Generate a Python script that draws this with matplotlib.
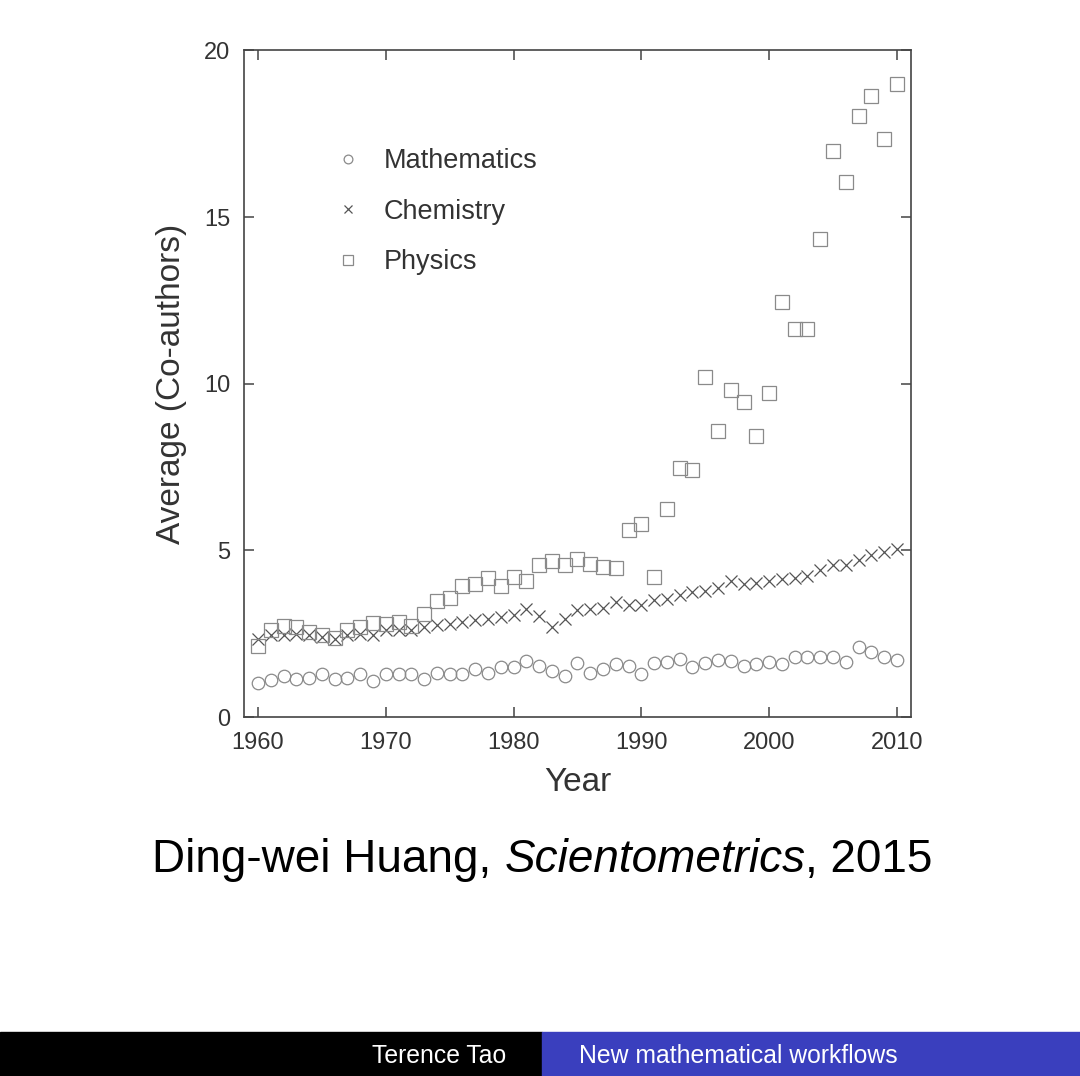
import numpy as np
import matplotlib
matplotlib.use("Agg")
import matplotlib.pyplot as plt
from matplotlib.patches import Rectangle

plt.rcParams['font.family'] = ['Liberation Sans', 'DejaVu Sans']

years = list(range(1960, 2011))

mathematics = [1.03, 1.10, 1.23, 1.13, 1.16, 1.30, 1.13, 1.18, 1.30, 1.08,
               1.28, 1.30, 1.28, 1.13, 1.33, 1.28, 1.30, 1.44, 1.33, 1.49,
               1.49, 1.69, 1.54, 1.39, 1.23, 1.61, 1.33, 1.44, 1.59, 1.54,
               1.28, 1.61, 1.64, 1.74, 1.49, 1.61, 1.71, 1.69, 1.54, 1.59,
               1.66, 1.59, 1.79, 1.79, 1.81, 1.81, 1.64, 2.11, 1.94, 1.81, 1.71]

chemistry = [2.35, 2.45, 2.45, 2.50, 2.45, 2.40, 2.35, 2.45, 2.50, 2.45,
             2.60, 2.60, 2.60, 2.70, 2.75, 2.80, 2.85, 2.90, 2.95, 3.00,
             3.05, 3.24, 3.04, 2.69, 2.95, 3.20, 3.24, 3.27, 3.45, 3.37,
             3.36, 3.51, 3.54, 3.66, 3.74, 3.78, 3.86, 4.08, 3.99, 4.03,
             4.08, 4.13, 4.18, 4.23, 4.42, 4.55, 4.57, 4.70, 4.87, 4.95, 5.05]

physics = [2.12, 2.62, 2.74, 2.69, 2.54, 2.47, 2.38, 2.62, 2.71, 2.81,
           2.80, 2.86, 2.74, 3.10, 3.49, 3.58, 3.92, 4.00, 4.18, 3.92,
           4.20, 4.07, 4.57, 4.68, 4.57, 4.74, 4.58, 4.50, 4.47, 5.62,
           5.80, 4.20, 6.23, 7.46, 7.41, 10.20, 8.59, 9.82, 9.45, 8.44,
           9.72, 12.46, 11.65, 11.65, 14.34, 16.98, 16.04, 18.03, 18.62, 17.35, 19.00]

xticks = [1960, 1970, 1980, 1990, 2000, 2010]
yticks = [0, 5, 10, 15, 20]

fig = plt.figure(figsize=(10.8, 10.76), dpi=100)
ax = fig.add_axes([0.2259, 0.3336, 0.6176, 0.6195])

ax.plot(years, mathematics, 'o', ms=9.0, mfc='none', mec='#8a8a8a', mew=0.9,
        label='Mathematics')
ax.plot(years, chemistry, 'x', ms=8.5, mec='#555555', mew=0.9,
        label='Chemistry')
ax.plot(years, physics, 's', ms=10, mfc='none', mec='#8a8a8a', mew=0.9,
        label='Physics')

ax.set_xlim(1958.9, 2011.1)
ax.set_ylim(0, 20)
ax.set_xticks(xticks)
ax.set_yticks(yticks)
ax.tick_params(direction='in', length=7, width=1.1, color='#444444',
               top=True, right=True, labelsize=17, labelcolor='#333333')
ax.tick_params(axis='x', labeltop=False, pad=11)
ax.tick_params(axis='y', labelright=False, pad=10)
for s in ax.spines.values():
    s.set_color('#444444')
    s.set_linewidth(1.2)

ax.set_xlabel('Year', fontsize=24, color='#333333', labelpad=9)
ax.set_ylabel('Average (Co-authors)', fontsize=24, color='#333333', labelpad=12)

leg = ax.legend(loc='upper left', bbox_to_anchor=(0.1364, 0.853), frameon=False,
                fontsize=19.5, markerscale=0.7, handlelength=1.0,
                handletextpad=0.8, labelspacing=0.9, borderpad=0, borderaxespad=0)
for t in leg.get_texts():
    t.set_color('#333333')

# caption in three parts, italic journal name
renderer = fig.canvas.get_renderer()
parts = [('Ding-wei Huang, ', 'normal'), ('Scientometrics', 'italic'), (', 2015', 'normal')]
texts = []
for s, st in parts:
    texts.append(fig.text(0, 0.1895, s, fontsize=33, style=st, color='black'))
widths = [t.get_window_extent(renderer).width for t in texts]
x0 = 542.5 - sum(widths) / 2
for t, w in zip(texts, widths):
    t.set_x(x0 / 1080)
    x0 += w

# footer bar
fig.patches.append(Rectangle((0, 0), 542 / 1080, 44 / 1076, transform=fig.transFigure,
                             color='black', zorder=0))
fig.patches.append(Rectangle((542 / 1080, 0), 1 - 542 / 1080, 44 / 1076,
                             transform=fig.transFigure, color='#3a3fbe', zorder=0))
fig.text(506 / 1080, 0.0186, 'Terence Tao', color='white', fontsize=17.8,
         ha='right', va='center')
fig.text(579 / 1080, 0.0186, 'New mathematical workflows', color='white',
         fontsize=17.8, ha='left', va='center')

fig.savefig('out.png', dpi=100)
